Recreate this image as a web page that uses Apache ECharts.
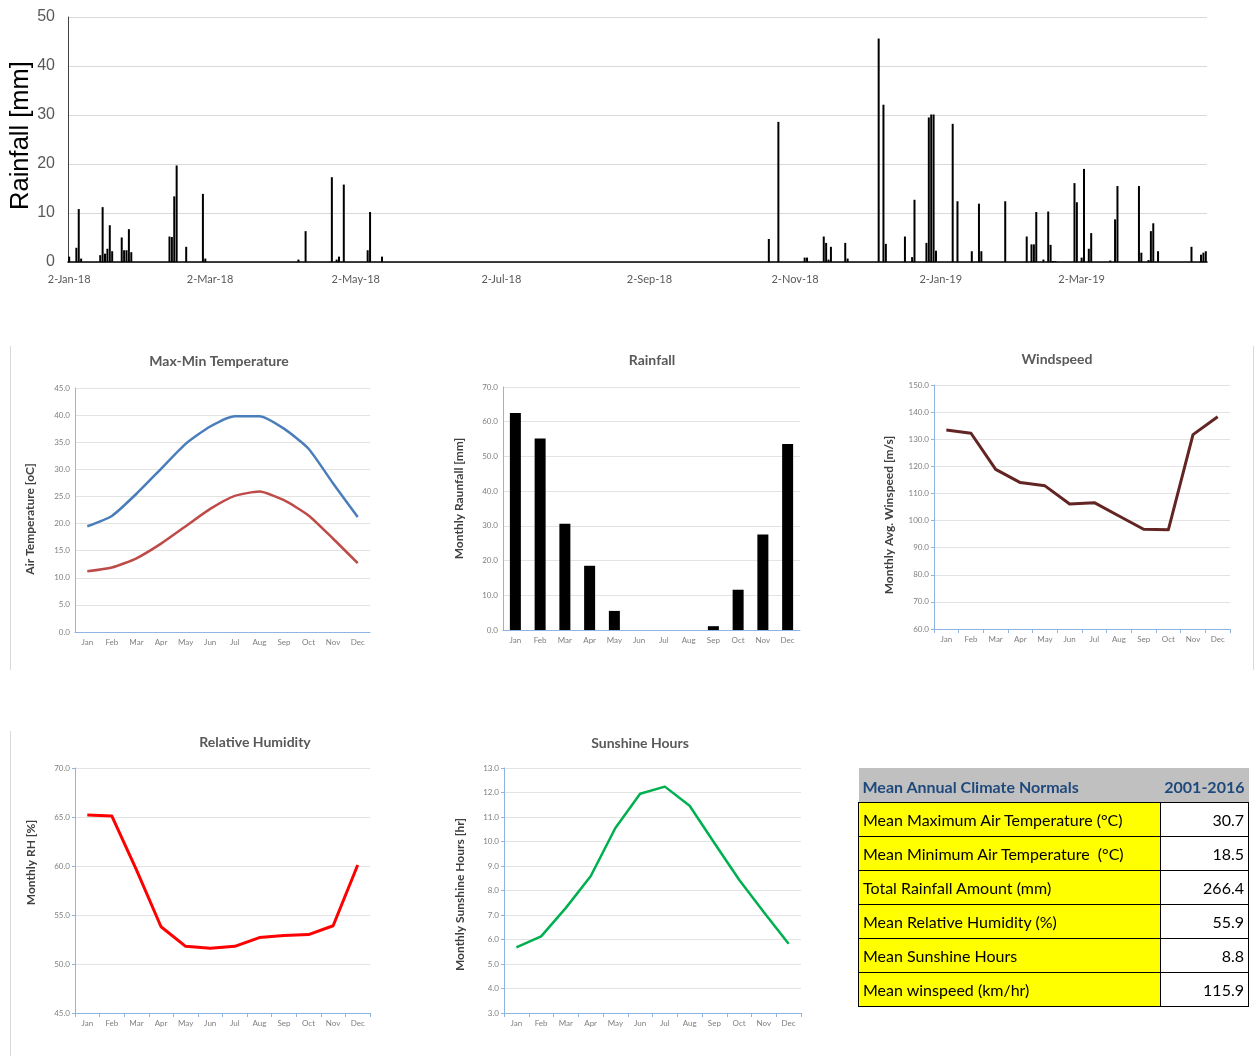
<!DOCTYPE html>
<html>
<head>
<meta charset="utf-8">
<title>Climate normals</title>
<script src="https://cdn.jsdelivr.net/npm/echarts@6/dist/echarts.min.js"></script>
<style>
  html, body { margin: 0; padding: 0; background: #fff; }
  #chart { position: absolute; left: 0; top: 0; width: 1255px; height: 1056px; }
  #normals {
    position: absolute; left: 858px; top: 768px; width: 391px;
    border-collapse: collapse; font-family: Lato, 'Noto Sans', sans-serif; font-size: 16px; color: #000;
  }
  #normals td { height: 33px; padding: 0 4px; border: 1px solid #000; white-space: nowrap; }
  #normals tr.head td { background: #c0c0c0; border: none; font-weight: bold; color: #1f497d; height: 31px; padding-top: 3px; }
  #normals td.lab { background: #ffff00; width: 293px; }
  #normals td.val { background: #fff; text-align: right; }
</style>
</head>
<body>
<div id="chart"></div>
<table id="normals"></table>
<script>
// daily rainfall, 2-Jan-18 .. 23-Apr-19 (only rainy days listed)
const rainDates = [
  '2018-01-02', '2018-01-05', '2018-01-06', '2018-01-07', '2018-01-15', '2018-01-16', '2018-01-17',
  '2018-01-18', '2018-01-19', '2018-01-20', '2018-01-24', '2018-01-25', '2018-01-26', '2018-01-27',
  '2018-01-28', '2018-02-13', '2018-02-14', '2018-02-15', '2018-02-16', '2018-02-20', '2018-02-27',
  '2018-02-28', '2018-04-08', '2018-04-11', '2018-04-22', '2018-04-24', '2018-04-25', '2018-04-27',
  '2018-05-07', '2018-05-08', '2018-05-13', '2018-10-22', '2018-10-26', '2018-11-06', '2018-11-07',
  '2018-11-14', '2018-11-15', '2018-11-16', '2018-11-17', '2018-11-23', '2018-11-24', '2018-12-07',
  '2018-12-09', '2018-12-10', '2018-12-18', '2018-12-21', '2018-12-22', '2018-12-27', '2018-12-28',
  '2018-12-29', '2018-12-30', '2018-12-31', '2019-01-07', '2019-01-09', '2019-01-15', '2019-01-18',
  '2019-01-19', '2019-01-29', '2019-02-07', '2019-02-09', '2019-02-10', '2019-02-11', '2019-02-14',
  '2019-02-16', '2019-02-17', '2019-02-18', '2019-02-19', '2019-02-27', '2019-02-28', '2019-03-02',
  '2019-03-03', '2019-03-05', '2019-03-06', '2019-03-14', '2019-03-16', '2019-03-17', '2019-03-26',
  '2019-03-27', '2019-03-30', '2019-03-31', '2019-04-01', '2019-04-03', '2019-04-17', '2019-04-21',
  '2019-04-22', '2019-04-23'
];
const rainValues = [
  1.1, 2.9, 10.8, 0.7, 1.4, 11.2, 1.7,
  2.7, 7.5, 2.2, 5.0, 2.4, 2.4, 6.7,
  2.0, 5.2, 5.1, 13.4, 19.7, 3.1, 13.9,
  0.7, 0.5, 6.3, 17.3, 0.5, 1.1, 15.8,
  2.4, 10.2, 1.1, 4.7, 28.6, 0.9, 0.9,
  5.2, 3.9, 0.5, 3.1, 3.9, 0.7, 45.6,
  32.1, 3.7, 5.2, 1.0, 12.7, 3.9, 29.5,
  30.1, 30.1, 2.3, 28.2, 12.4, 2.2, 11.9,
  2.2, 12.4, 5.2, 3.6, 3.6, 10.2, 0.5,
  10.3, 3.5, 0.2, 0.2, 16.1, 12.2, 0.9,
  19.0, 2.7, 5.9, 0.3, 8.7, 15.5, 15.5,
  1.9, 0.4, 6.3, 7.9, 2.2, 3.1, 1.5,
  1.9, 2.2
];
const startDate = '2018-01-02';
const endDate = '2019-04-23';

// monthly normals
const months = ['Jan', 'Feb', 'Mar', 'Apr', 'May', 'Jun', 'Jul', 'Aug', 'Sep', 'Oct', 'Nov', 'Dec'];
const tempMax = [19.5, 21.4, 25.5, 30.1, 34.7, 37.9, 39.8, 39.8, 37.5, 33.8, 27.4, 21.2];
const tempMin = [11.2, 11.9, 13.6, 16.3, 19.5, 22.7, 25.1, 25.9, 24.3, 21.5, 17.2, 12.7];
const rainMonthly = [62.5, 55.2, 30.6, 18.5, 5.5, 0, 0, 0, 1.1, 11.6, 27.5, 53.6];
const windSpeed = [133.4, 132.2, 118.9, 114.0, 112.8, 106.1, 106.6, 101.7, 96.8, 96.6, 131.7, 138.3];
const humidity = [65.2, 65.1, 59.6, 53.8, 51.8, 51.6, 51.8, 52.7, 52.9, 53.0, 53.9, 60.1];
const sunshine = [5.68, 6.13, 7.29, 8.58, 10.55, 11.95, 12.24, 11.46, 9.94, 8.44, 7.11, 5.83];

// table
const normalLabels = [
  'Mean Maximum Air Temperature (°C)',
  'Mean Minimum Air Temperature  (°C)',
  'Total Rainfall Amount (mm)',
  'Mean Relative Humidity (%)',
  'Mean Sunshine Hours',
  'Mean winspeed (km/hr)'
];
const normalValues = ['30.7', '18.5', '266.4', '55.9', '8.8', '115.9'];

// ---- table ----
let html = '<tr class="head"><td>Mean Annual Climate Normals</td><td style="text-align:right">2001-2016</td></tr>';
normalLabels.forEach((l, i) => {
  html += '<tr><td class="lab">' + l.replace(/  /g, ' &nbsp;') + '</td><td class="val">' + normalValues[i] + '</td></tr>';
});
document.getElementById('normals').innerHTML = html;

// ---- daily series ----
const days = [];
for (let t = Date.parse(startDate); t <= Date.parse(endDate); t += 86400000) {
  days.push(new Date(t).toISOString().slice(0, 10));
}
const rainLookup = {};
rainDates.forEach((d, i) => { rainLookup[d] = rainValues[i]; });
const dailyRain = days.map(d => (d in rainLookup ? rainLookup[d] : 0));

const MON = ['Jan', 'Feb', 'Mar', 'Apr', 'May', 'Jun', 'Jul', 'Aug', 'Sep', 'Oct', 'Nov', 'Dec'];
const showDay = (idx, val) => +val.slice(8, 10) === 2 && (+val.slice(5, 7)) % 2 === 1;
const fmtDay = val => +val.slice(8, 10) + '-' + MON[+val.slice(5, 7) - 1] + '-' + val.slice(2, 4);

const small = 'Lato, "Noto Sans", sans-serif';
const axisBlue = '#8eb4e3';

function monthAxis(grid, ticks) {
  return {
    type: 'category', gridIndex: grid, data: months,
    axisLine: { lineStyle: { color: axisBlue, width: 1 } },
    axisTick: { show: ticks, length: 4, lineStyle: { color: axisBlue } },
    axisLabel: { fontSize: 8, color: '#7f7f7f', fontFamily: small, margin: 6, interval: 0 }
  };
}
function valueAxis(grid, min, max, step, name, gap, pad, ticks) {
  return {
    type: 'value', gridIndex: grid, min: min, max: max, interval: step,
    name: name, nameLocation: 'middle', nameGap: gap, nameMoveOverlap: false,
    nameTextStyle: { fontSize: 12, fontWeight: 'bold', color: '#404040', fontFamily: small, padding: pad },
    axisLine: { show: true, lineStyle: { color: axisBlue, width: 1 } },
    axisTick: { show: ticks, length: 3, lineStyle: { color: axisBlue } },
    axisLabel: { fontSize: 8, color: '#7f7f7f', fontFamily: small, margin: 5, formatter: v => v.toFixed(1) },
    splitLine: { lineStyle: { color: '#e3e3e3' } }
  };
}
function lineSeries(x, y, data, color, width, smooth) {
  return {
    type: 'line', xAxisIndex: x, yAxisIndex: y, data: data, symbol: 'none', smooth: smooth,
    lineStyle: { color: color, width: width, join: 'round' }, itemStyle: { color: color }
  };
}
function title(text, x, y) {
  return {
    text: text, left: x, top: y, textAlign: 'center', padding: 0,
    textStyle: { fontSize: 14, fontWeight: 'bold', color: '#595959', fontFamily: small }
  };
}
function frame(x, y1, y2) {
  return { type: 'line', shape: { x1: x, y1: y1, x2: x, y2: y2 }, style: { stroke: '#d9d9d9', lineWidth: 1 } };
}

const chart = echarts.init(document.getElementById('chart'));
chart.setOption({
  animation: false,
  title: [
    title('Max-Min Temperature', 219, 354),
    title('Rainfall', 652, 353),
    title('Windspeed', 1057, 352),
    title('Relative Humidity', 255, 735),
    title('Sunshine Hours', 640, 736)
  ],
  graphic: [frame(10.5, 346, 670), frame(10.5, 731, 1056), frame(1253.5, 346, 670)],
  grid: [
    { left: 68, top: 17, width: 1139, height: 245, outerBoundsMode: 'none' },
    { left: 75, top: 388, width: 295, height: 244, outerBoundsMode: 'none' },
    { left: 503, top: 387, width: 297, height: 243, outerBoundsMode: 'none' },
    { left: 934, top: 385, width: 296, height: 244, outerBoundsMode: 'none' },
    { left: 75, top: 768, width: 295, height: 245, outerBoundsMode: 'none' },
    { left: 504, top: 768, width: 297, height: 245, outerBoundsMode: 'none' }
  ],
  xAxis: [
    {
      type: 'category', gridIndex: 0, data: days,
      axisLine: { lineStyle: { color: '#000', width: 1.5 } },
      axisTick: { interval: showDay, alignWithLabel: true, length: 4, lineStyle: { color: '#000' } },
      axisLabel: { interval: showDay, formatter: fmtDay, fontSize: 11, color: '#595959', fontFamily: small, margin: 12 }
    },
    monthAxis(1, false),
    monthAxis(2, false),
    monthAxis(3, true),
    monthAxis(4, true),
    monthAxis(5, true)
  ],
  yAxis: [
    {
      type: 'value', gridIndex: 0, min: 0, max: 50, interval: 10,
      name: 'Rainfall [mm]', nameLocation: 'middle', nameGap: 34, nameMoveOverlap: false,
      nameTextStyle: { fontSize: 25.5, color: '#000', fontFamily: 'Liberation Sans', padding: [0, 0, 0, 8] },
      axisLine: { show: true, lineStyle: { color: '#404040', width: 1 } },
      axisLabel: { fontSize: 16, color: '#595959', fontFamily: 'Liberation Sans', margin: 13 },
      splitLine: { lineStyle: { color: '#d9d9d9' } }
    },
    valueAxis(1, 0, 45, 5, 'Air Temperature [oC]', 39, [0, 18, 0, 0], false),
    valueAxis(2, 0, 70, 10, 'Monthly Raunfall [mm]', 38, [0, 0, 0, 20], false),
    valueAxis(3, 60, 150, 10, 'Monthly Avg. Winspeed [m/s]', 39, [0, 16, 0, 0], true),
    valueAxis(4, 45, 70, 5, 'Monthly RH [%]', 38, [0, 0, 0, 56], true),
    valueAxis(5, 3, 13, 1, 'Monthly Sunshine Hours [hr]', 38, [0, 8, 0, 0], true)
  ],
  series: [
    {
      type: 'bar', xAxisIndex: 0, yAxisIndex: 0, data: dailyRain,
      barWidth: 2, itemStyle: { color: '#000' }
    },
    lineSeries(1, 1, tempMax, '#4a7ebb', 2.5, 0.2),
    lineSeries(1, 1, tempMin, '#be4b48', 2.5, 0.2),
    {
      type: 'bar', xAxisIndex: 2, yAxisIndex: 2, data: rainMonthly,
      barWidth: 11, itemStyle: { color: '#000' }
    },
    lineSeries(3, 3, windSpeed, '#632523', 3, false),
    lineSeries(4, 4, humidity, '#ff0000', 3, false),
    lineSeries(5, 5, sunshine, '#00b050', 2.5, false)
  ]
});
</script>
</body>
</html>
